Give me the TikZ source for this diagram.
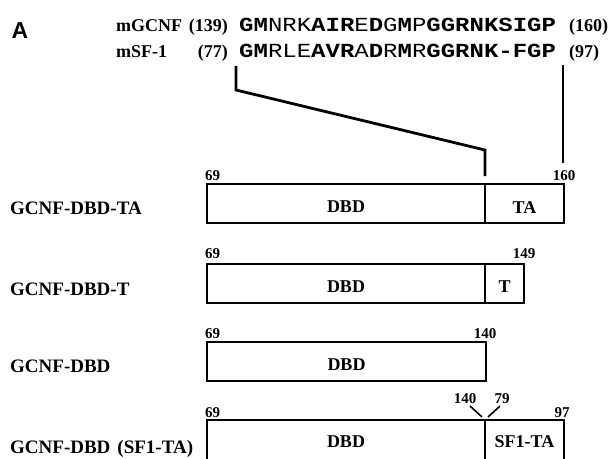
\documentclass[tikz,border=0pt]{standalone}
\usepackage{fontspec}
\setmainfont{Liberation Serif}
\newfontfamily\seqfont[FakeStretch=1.2]{Liberation Mono}
\newfontfamily\panelfont{Liberation Sans}
\usetikzlibrary{positioning, calc}

\begin{document}
\begin{tikzpicture}[
    x=1pt, y=-1pt,
    segment/.style={draw, line width=2pt, inner sep=0pt, outer sep=0pt, minimum height=39pt, text height=19pt, font=\fontsize{18}{20}\selectfont\bfseries},
    construct/.style={anchor=base west, inner sep=0pt, font=\fontsize{19}{22}\selectfont\bfseries},
    species/.style={inner sep=0pt, font=\fontsize{18}{22}\selectfont\bfseries},
    residues/.style={anchor=base west, inner sep=0pt, font=\seqfont\fontsize{20}{24}\selectfont},
    num/.style={anchor=base, inner sep=0pt, font=\fontsize{15}{17}\selectfont\bfseries},
    link/.style={draw, line width=2.8pt},
    junction/.style={draw, line width=1.6pt}
]
\clip (0,0) rectangle (610,458);

% Panel letter
\node[anchor=base, inner sep=0pt, font=\panelfont\fontsize{23}{26}\selectfont\bfseries] (panel) at (20,38) {A};

% Sequence alignment
\node[species, anchor=base west] (gcnfName) at (116,31) {mGCNF};
\node[species, anchor=base east] (gcnfStart) at (228,31) {(139)};
\node[residues] (gcnfSeq) at (239,31) {\textbf{GM}NRK\textbf{AIR}E\textbf{D}G\textbf{M}P\textbf{GGRNKSIGP}};
\node[species, anchor=base west] (gcnfEnd) at (569,31) {(160)};
\node[species, anchor=base west] (sfName) at (116,57) {mSF-1};
\node[species, anchor=base east] (sfStart) at (228,57) {(77)};
\node[residues] (sfSeq) at (239,57) {\textbf{GM}RLE\textbf{AVR}A\textbf{D}R\textbf{M}R\textbf{GGRNK-FGP}};
\node[species, anchor=base west] (sfEnd) at (569,57) {(97)};

% Constructs
\node[construct] (nameTA) at (10,214.5) {GCNF-DBD-TA};
\node[segment, anchor=west, minimum width=278pt] (dbd1) at (207,203.5) {DBD};
\node[segment, right=0pt of dbd1, minimum width=79pt] (ta1) {TA};

\node[construct] (nameT) at (10,295.5) {GCNF-DBD-T};
\node[segment, anchor=west, minimum width=278pt] (dbd2) at (207,283) {DBD};
\node[segment, right=0pt of dbd2, minimum width=39pt] (t2) {T};

\node[construct] (nameD) at (10,372.5) {GCNF-DBD};
\node[segment, anchor=west, minimum width=279pt] (dbd3) at (207,361.5) {DBD};

\node[construct] (nameSF) at (10,453.5) {GCNF-DBD\hspace{7pt}(SF1-TA)};
\node[segment, anchor=west, minimum width=278pt, minimum height=44pt, text height=12pt] (dbd4) at (207,442) {DBD};
\node[segment, right=0pt of dbd4, minimum width=79pt, minimum height=44pt, text height=12pt] (sf4) {SF1-TA};

% Residue numbers
\node[num] (n1a) at (212.5,180) {69};
\node[num] (n1b) at (564,180) {160};
\node[num] (n2a) at (212.5,258) {69};
\node[num] (n2b) at (524,258) {149};
\node[num] (n3a) at (212.5,338) {69};
\node[num] (n3b) at (485,338) {140};
\node[num] (n4a) at (212.5,417) {69};
\node[num] (n4b) at (465,403) {140};
\node[num] (n4c) at (502,403) {79};
\node[num] (n4d) at (562,417) {97};

% Connectors
\coordinate (splitL) at (236,66);
\coordinate (splitR) at (563,65);
\draw[link] (splitL) -- ++(0,24) -- ($(dbd1.north east)+(0,-34)$) -- ($(dbd1.north east)+(0,-8)$);
\draw[link] (splitR) -- ($(ta1.north east)+(-1,-21)$);
\draw[junction] ($(dbd4.north east)+(-15,-14)$) -- ($(dbd4.north east)+(-3,-3)$);
\draw[junction] ($(dbd4.north east)+(15,-14)$) -- ($(dbd4.north east)+(3,-3)$);

\end{tikzpicture}
\end{document}
